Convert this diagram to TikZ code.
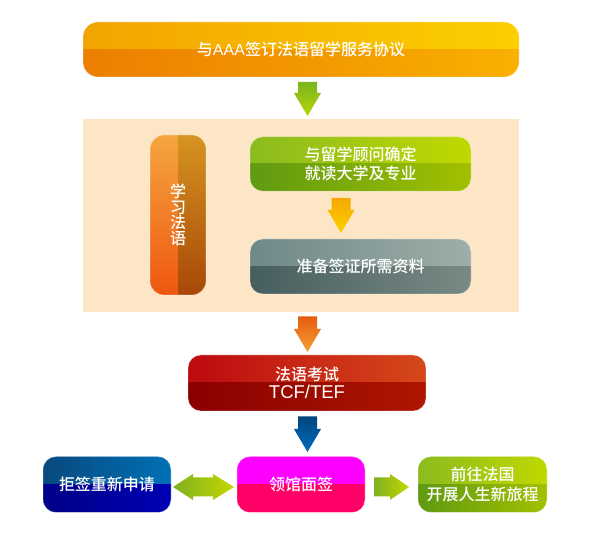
\documentclass[tikz,border=0pt]{standalone}
\usepackage{fontspec}
\setmainfont{Noto Sans CJK SC}[UprightFont=* Medium]
\newfontfamily\lat{Liberation Sans}
\usetikzlibrary{calc}
\definecolor{beige}{HTML}{FDE6C6}
\definecolor{topTL}{HTML}{F2A400}
\definecolor{topTR}{HTML}{FBCF00}
\definecolor{topBL}{HTML}{EC7E00}
\definecolor{topBR}{HTML}{F9B000}
\definecolor{orTL}{HTML}{F5A640}
\definecolor{orBL}{HTML}{EE5610}
\definecolor{orTR}{HTML}{D69420}
\definecolor{orBR}{HTML}{A84808}
\definecolor{grTL}{HTML}{8BBB1F}
\definecolor{grTR}{HTML}{C0D800}
\definecolor{grBL}{HTML}{5F9A12}
\definecolor{grBR}{HTML}{A2C000}
\definecolor{gyTL}{HTML}{6F8888}
\definecolor{gyTR}{HTML}{9EAEA8}
\definecolor{gyBL}{HTML}{465E5E}
\definecolor{gyBR}{HTML}{798A85}
\definecolor{rdTL}{HTML}{BD0A10}
\definecolor{rdTR}{HTML}{D5481A}
\definecolor{rdBL}{HTML}{8A0000}
\definecolor{rdBR}{HTML}{AE1600}
\definecolor{blTL}{HTML}{08497E}
\definecolor{blTR}{HTML}{0070B5}
\definecolor{blBL}{HTML}{000088}
\definecolor{blBR}{HTML}{0000B4}
\definecolor{mgT}{HTML}{FF00FF}
\definecolor{mgB}{HTML}{FF0066}
\definecolor{aGa}{HTML}{7AB51D}
\definecolor{aGb}{HTML}{B7D40A}
\definecolor{aYa}{HTML}{F5A800}
\definecolor{aYb}{HTML}{FCD000}
\definecolor{aOa}{HTML}{E65C10}
\definecolor{aOb}{HTML}{F7A035}
\definecolor{aBa}{HTML}{00457E}
\definecolor{aBb}{HTML}{006DBB}
\definecolor{aHa}{HTML}{80B020}
\definecolor{aHb}{HTML}{C4D800}
\tikzset{
  glossy/.style n args={4}{rectangle, rounded corners=13pt, draw=white, draw opacity=0.35,
    line width=0.8pt, text=white, align=center, inner sep=0pt,
    font=\fontsize{16}{19.5}\selectfont,
    path picture={
      \shade[sharp corners, left color=#1, right color=#2] (path picture bounding box.north west) rectangle (path picture bounding box.east);
      \shade[sharp corners, left color=#3, right color=#4] (path picture bounding box.west) rectangle (path picture bounding box.south east);
    }},
  vglossy/.style n args={4}{rectangle, rounded corners=14pt, draw=white, draw opacity=0.35,
    line width=0.8pt, text=white, align=center, inner sep=0pt,
    font=\fontsize{16}{15.5}\selectfont,
    path picture={
      \shade[sharp corners, top color=#1, bottom color=#2] (path picture bounding box.north west) rectangle (path picture bounding box.south);
      \shade[sharp corners, top color=#3, bottom color=#4] (path picture bounding box.north) rectangle (path picture bounding box.south east);
    }},
}
\begin{document}
\begin{tikzpicture}[x=1pt,y=-1pt]
\useasboundingbox (0,0) rectangle (614,545);
% top box
\node[glossy={topTL}{topTR}{topBL}{topBR}, rounded corners=15pt, minimum width=436pt, minimum height=55pt] (top) at (301,49.5)
  {与{\lat AAA}签订法语留学服务协议};
% arrow 1
\shade[top color=aGa, bottom color=aGb]
  (298,82) -- (317,82) -- (317,93) -- (321,93) -- (307.5,116) -- (294,93) -- (298,93) -- cycle;
% beige background
\node[fill=beige, minimum width=436pt, minimum height=193pt, inner sep=0pt] (bg) at (301,215.5) {};
% vertical box
\node[vglossy={orTL}{orBL}{orTR}{orBR}, minimum width=56pt, minimum height=160pt] (learn) at (178,215) {学\\习\\法\\语};
% green box
\node[glossy={grTL}{grTR}{grBL}{grBR}, minimum width=221pt, minimum height=54.5pt] (advisor) at (360.5,164) {与留学顾问确定\\就读大学及专业};
% arrow 2
\shade[top color=aYa, bottom color=aYb]
  (331.5,198) -- (350.5,198) -- (350.5,210) -- (354.5,210) -- (341,233) -- (327.5,210) -- (331.5,210) -- cycle;
% gray box
\node[glossy={gyTL}{gyTR}{gyBL}{gyBR}, minimum width=221pt, minimum height=55pt] (docs) at (360.5,266.5) {准备签证所需资料};
% arrow 3
\shade[top color=aOa, bottom color=aOb]
  (298,316.5) -- (317,316.5) -- (317,329) -- (321,329) -- (307.5,352) -- (294,329) -- (298,329) -- cycle;
% red box
\node[glossy={rdTL}{rdTR}{rdBL}{rdBR}, minimum width=238pt, minimum height=56pt] (exam) at (307,383)
  {法语考试\\[-1pt]{\lat\fontsize{18.5}{20}\selectfont TCF/TEF}};
% arrow 4
\shade[top color=aBa, bottom color=aBb]
  (298,416.5) -- (317,416.5) -- (317,429) -- (321,429) -- (307.5,452) -- (294,429) -- (298,429) -- cycle;
% bottom row
\node[glossy={blTL}{blTR}{blBL}{blBR}, minimum width=128pt, minimum height=56pt] (refuse) at (107,484.5) {拒签重新申请};
\node[glossy={mgT}{mgT}{mgB}{mgB}, minimum width=128pt, minimum height=56pt] (interview) at (301,484.5) {领馆面签};
\node[glossy={grTL}{grTR}{grBL}{grBR}, minimum width=129pt, minimum height=56pt] (france) at (482.5,484.5) {前往法国\\开展人生新旅程};
% double arrow
\shade[left color=aHa, right color=aHb]
  (173,487) -- (193,474) -- (193,477.5) -- (213,477.5) -- (213,474) -- (234,487) -- (213,500) -- (213,496.5) -- (193,496.5) -- (193,500) -- cycle;
% right arrow
\shade[left color=aHa, right color=aHb]
  (374,477.5) -- (390,477.5) -- (390,474) -- (409,487) -- (390,500) -- (390,496.5) -- (374,496.5) -- cycle;
\end{tikzpicture}
\end{document}
